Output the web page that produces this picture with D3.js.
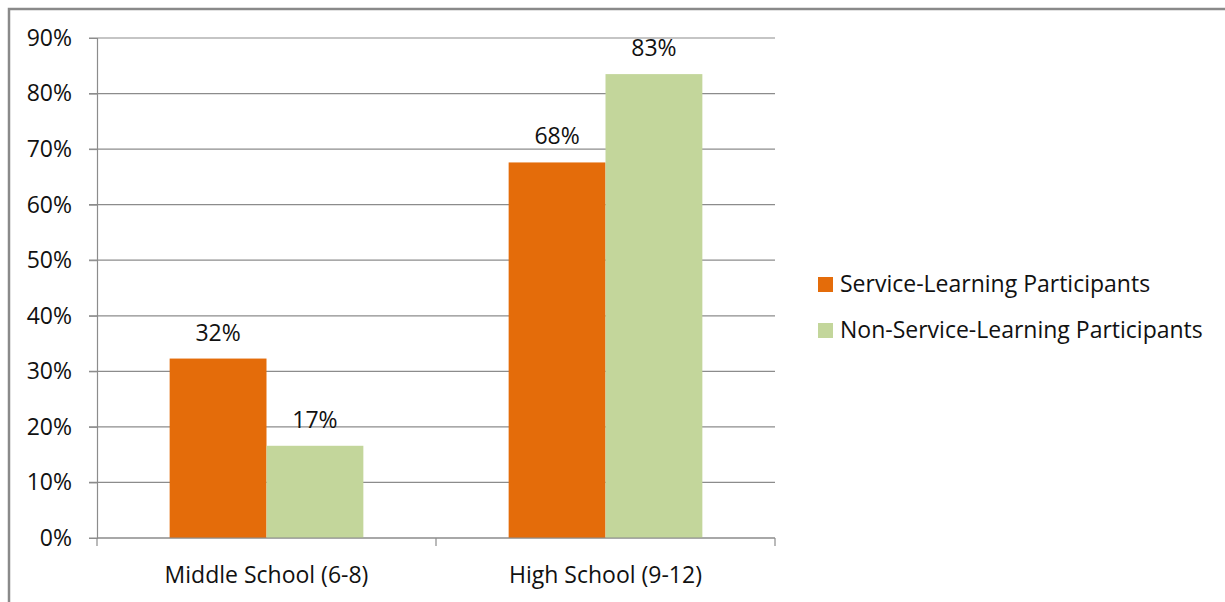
<!DOCTYPE html>
<html><head><meta charset="utf-8">
<script src="https://cdn.jsdelivr.net/npm/d3@7"></script>
<style>body{margin:0;background:#fff}text{font-family:"Open Sans",sans-serif;fill:#111}</style>
</head><body><svg id="c" width="1225" height="602"></svg>
<script>
const categories = ["Middle School (6-8)", "High School (9-12)"];
const seriesNames = ["Service-Learning Participants", "Non-Service-Learning Participants"];
const serviceLearning = [32.3, 67.6];
const nonServiceLearning = [16.6, 83.5];
const valueLabels = [["32%", "68%"], ["17%", "83%"]];
const yTicks = [0, 10, 20, 30, 40, 50, 60, 70, 80, 90];
const colors = ["#E46C0A", "#C3D69B"];
const FS = "23px";

const svg = d3.select("#c");
const W = 1225, H = 602;
const m = {left: 97, right: 775, top: 38, bottom: 538};

// frame
svg.append("path").attr("d", `M9,${H} L9,9 L${W},9`).attr("fill","none").attr("stroke","#8a8a8a").attr("stroke-width",2.5);

const x0 = d3.scaleBand().domain(categories).range([m.left, m.right]).paddingInner(0).paddingOuter(0);
const x1 = d3.scaleBand().domain([0,1]).range([0, x0.bandwidth()]).paddingInner(0).paddingOuter(0.75);
const y = d3.scaleLinear().domain([0, 90]).range([m.bottom, m.top]);

// gridlines
svg.append("g").selectAll("line").data(yTicks).join("line")
  .attr("x1", m.left - 8).attr("x2", m.right).attr("y1", d => y(d)).attr("y2", d => y(d))
  .attr("stroke", "#8c8c8c").attr("stroke-width", 1.2);

// y axis
const yAxis = svg.append("g").attr("transform", `translate(${m.left},0)`)
  .call(d3.axisLeft(y).tickValues(yTicks).tickFormat(d => d + "%").tickSize(8).tickPadding(17));
yAxis.select(".domain").attr("stroke", "#8c8c8c").attr("stroke-width", 1.2);
yAxis.selectAll("line").attr("stroke", "#8c8c8c");
yAxis.selectAll("text").style("font-size", FS).style("font-family", "'Open Sans',sans-serif").attr("fill", "#111");

// bars
const data = categories.map((c, i) => [serviceLearning[i], nonServiceLearning[i]]);
const g = svg.append("g");
categories.forEach((c, i) => {
  data[i].forEach((v, s) => {
    g.append("rect").attr("x", x0(c) + x1(s)).attr("width", x1.bandwidth())
      .attr("y", y(v)).attr("height", y(0) - y(v)).attr("fill", colors[s]);
    g.append("text").attr("x", x0(c) + x1(s) + x1.bandwidth() / 2).attr("y", y(v) - 18)
      .attr("text-anchor", "middle").style("font-size", FS).text(valueLabels[s][i]);
  });
});

// x axis
const xAxis = svg.append("g").attr("transform", `translate(0,${m.bottom})`);
xAxis.append("line").attr("x1", m.left).attr("x2", m.right).attr("stroke", "#8c8c8c").attr("stroke-width", 1.2);
const boundaries = [m.left, ...categories.map(c => x0(c) + x0.bandwidth())];
xAxis.selectAll(".tk").data(boundaries).join("line").attr("class","tk")
  .attr("x1", d => d).attr("x2", d => d).attr("y1", 0).attr("y2", 8).attr("stroke", "#8c8c8c").attr("stroke-width", 1.2);
xAxis.selectAll(".lb").data(categories).join("text").attr("class","lb")
  .attr("x", d => x0(d) + x0.bandwidth() / 2).attr("y", 45).attr("text-anchor", "middle")
  .style("font-size", FS).text(d => d);

// legend
const lg = svg.append("g");
seriesNames.forEach((n, i) => {
  const cy = 284 + i * 46;
  lg.append("rect").attr("x", 818).attr("y", cy - 7).attr("width", 15).attr("height", 15).attr("fill", colors[i]);
  lg.append("text").attr("x", 840).attr("y", cy + 8).style("font-size", FS).text(n);
});
</script></body></html>
